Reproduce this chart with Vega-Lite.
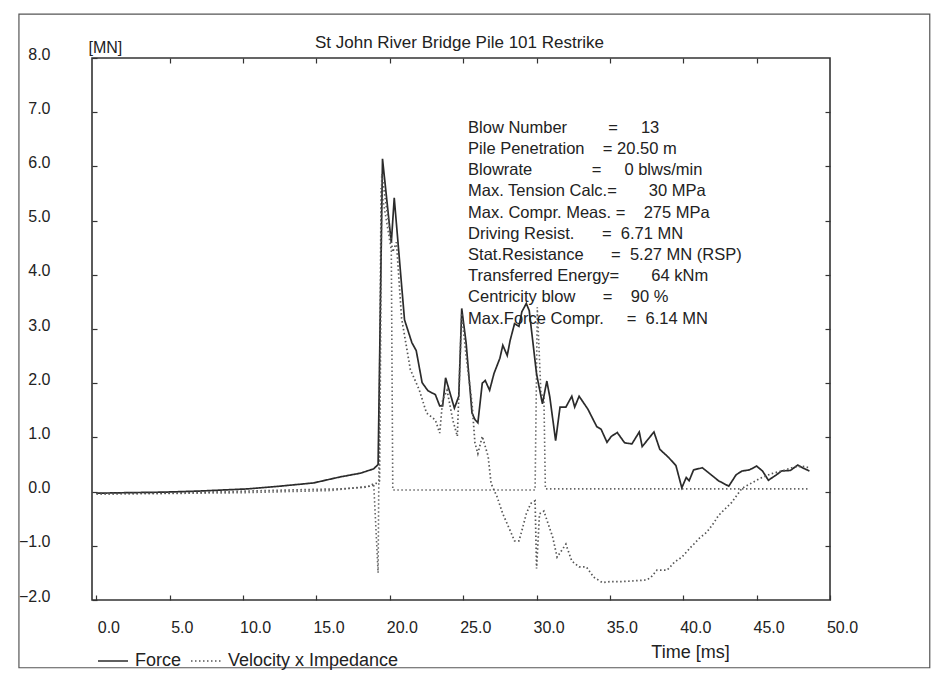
{
 "$schema": "https://vega.github.io/schema/vega-lite/v6.json",
 "width": 738, "height": 542,
 "autosize": {"type": "none"},
 "padding": {"left": 92, "top": 58, "right": 107, "bottom": 75},
 "background": "#ffffff",
 "config": {"view": {"stroke": "#333333", "strokeWidth": 1.6}, "font": "Liberation Sans"},
 "datasets": {
  "traces": [
   {"t":0,"v":-0.03,"s":"Force"},{"t":2,"v":-0.02,"s":"Force"},{"t":4.6,"v":-0.01,"s":"Force"},{"t":7,"v":0.01,"s":"Force"},{"t":10.3,"v":0.05,"s":"Force"},{"t":12.5,"v":0.1,"s":"Force"},{"t":14.8,"v":0.16,"s":"Force"},{"t":16.6,"v":0.27,"s":"Force"},{"t":18.0,"v":0.34,"s":"Force"},{"t":18.9,"v":0.42,"s":"Force"},{"t":19.2,"v":0.5,"s":"Force"},{"t":19.5,"v":6.14,"s":"Force"},{"t":20.1,"v":4.59,"s":"Force"},{"t":20.3,"v":5.42,"s":"Force"},{"t":21.0,"v":3.17,"s":"Force"},{"t":21.5,"v":2.75,"s":"Force"},{"t":21.8,"v":2.6,"s":"Force"},{"t":22.2,"v":2.01,"s":"Force"},{"t":22.6,"v":1.86,"s":"Force"},{"t":23.1,"v":1.79,"s":"Force"},{"t":23.4,"v":1.58,"s":"Force"},{"t":23.6,"v":1.58,"s":"Force"},{"t":23.8,"v":2.1,"s":"Force"},{"t":24.4,"v":1.54,"s":"Force"},{"t":24.7,"v":1.76,"s":"Force"},{"t":24.9,"v":3.38,"s":"Force"},{"t":25.2,"v":2.74,"s":"Force"},{"t":25.6,"v":1.45,"s":"Force"},{"t":25.8,"v":1.33,"s":"Force"},{"t":26.0,"v":1.27,"s":"Force"},{"t":26.3,"v":2.0,"s":"Force"},{"t":26.5,"v":2.05,"s":"Force"},{"t":26.8,"v":1.87,"s":"Force"},{"t":27.1,"v":2.18,"s":"Force"},{"t":27.5,"v":2.46,"s":"Force"},{"t":27.7,"v":2.7,"s":"Force"},{"t":28.0,"v":2.51,"s":"Force"},{"t":28.2,"v":2.79,"s":"Force"},{"t":28.5,"v":3.1,"s":"Force"},{"t":28.8,"v":3.05,"s":"Force"},{"t":29.0,"v":3.32,"s":"Force"},{"t":29.3,"v":3.47,"s":"Force"},{"t":29.5,"v":3.34,"s":"Force"},{"t":30.0,"v":2.17,"s":"Force"},{"t":30.4,"v":1.62,"s":"Force"},{"t":30.7,"v":2.04,"s":"Force"},{"t":30.9,"v":1.75,"s":"Force"},{"t":31.3,"v":0.94,"s":"Force"},{"t":31.6,"v":1.56,"s":"Force"},{"t":32.0,"v":1.56,"s":"Force"},{"t":32.4,"v":1.76,"s":"Force"},{"t":32.6,"v":1.56,"s":"Force"},{"t":32.9,"v":1.76,"s":"Force"},{"t":33.5,"v":1.52,"s":"Force"},{"t":34.1,"v":1.2,"s":"Force"},{"t":34.4,"v":1.15,"s":"Force"},{"t":34.8,"v":0.91,"s":"Force"},{"t":35.1,"v":1.02,"s":"Force"},{"t":35.5,"v":1.09,"s":"Force"},{"t":36.0,"v":0.9,"s":"Force"},{"t":36.5,"v":0.88,"s":"Force"},{"t":37.0,"v":1.1,"s":"Force"},{"t":37.2,"v":0.83,"s":"Force"},{"t":38.0,"v":1.1,"s":"Force"},{"t":38.4,"v":0.78,"s":"Force"},{"t":39.0,"v":0.63,"s":"Force"},{"t":39.5,"v":0.48,"s":"Force"},{"t":39.9,"v":0.07,"s":"Force"},{"t":40.2,"v":0.26,"s":"Force"},{"t":40.4,"v":0.2,"s":"Force"},{"t":40.7,"v":0.4,"s":"Force"},{"t":41.3,"v":0.44,"s":"Force"},{"t":41.9,"v":0.31,"s":"Force"},{"t":42.4,"v":0.2,"s":"Force"},{"t":43.1,"v":0.1,"s":"Force"},{"t":43.6,"v":0.31,"s":"Force"},{"t":44.0,"v":0.38,"s":"Force"},{"t":44.5,"v":0.4,"s":"Force"},{"t":45.0,"v":0.47,"s":"Force"},{"t":45.4,"v":0.38,"s":"Force"},{"t":45.8,"v":0.21,"s":"Force"},{"t":46.3,"v":0.3,"s":"Force"},{"t":46.7,"v":0.38,"s":"Force"},{"t":47.3,"v":0.39,"s":"Force"},{"t":47.8,"v":0.49,"s":"Force"},{"t":48.2,"v":0.43,"s":"Force"},{"t":48.6,"v":0.38,"s":"Force"},
   {"t":0,"v":-0.03,"s":"Velocity x Impedance"},{"t":4.6,"v":-0.03,"s":"Velocity x Impedance"},{"t":10.3,"v":0.01,"s":"Velocity x Impedance"},{"t":14.8,"v":0.04,"s":"Velocity x Impedance"},{"t":16.6,"v":0.05,"s":"Velocity x Impedance"},{"t":18.3,"v":0.08,"s":"Velocity x Impedance"},{"t":18.9,"v":0.12,"s":"Velocity x Impedance"},{"t":19.3,"v":0.2,"s":"Velocity x Impedance"},{"t":19.45,"v":5.86,"s":"Velocity x Impedance"},{"t":20.2,"v":4.42,"s":"Velocity x Impedance"},{"t":20.45,"v":4.6,"s":"Velocity x Impedance"},{"t":20.8,"v":3.2,"s":"Velocity x Impedance"},{"t":21.4,"v":2.25,"s":"Velocity x Impedance"},{"t":22.0,"v":1.88,"s":"Velocity x Impedance"},{"t":22.5,"v":1.45,"s":"Velocity x Impedance"},{"t":23.1,"v":1.32,"s":"Velocity x Impedance"},{"t":23.4,"v":1.08,"s":"Velocity x Impedance"},{"t":23.6,"v":1.69,"s":"Velocity x Impedance"},{"t":23.9,"v":1.87,"s":"Velocity x Impedance"},{"t":24.3,"v":1.31,"s":"Velocity x Impedance"},{"t":24.6,"v":1.02,"s":"Velocity x Impedance"},{"t":24.9,"v":3.29,"s":"Velocity x Impedance"},{"t":25.2,"v":2.5,"s":"Velocity x Impedance"},{"t":25.6,"v":1.63,"s":"Velocity x Impedance"},{"t":25.8,"v":0.9,"s":"Velocity x Impedance"},{"t":26.0,"v":0.7,"s":"Velocity x Impedance"},{"t":26.3,"v":1.02,"s":"Velocity x Impedance"},{"t":26.7,"v":0.65,"s":"Velocity x Impedance"},{"t":26.9,"v":0.15,"s":"Velocity x Impedance"},{"t":27.3,"v":-0.09,"s":"Velocity x Impedance"},{"t":27.7,"v":-0.41,"s":"Velocity x Impedance"},{"t":28.2,"v":-0.72,"s":"Velocity x Impedance"},{"t":28.5,"v":-0.91,"s":"Velocity x Impedance"},{"t":28.8,"v":-0.91,"s":"Velocity x Impedance"},{"t":29.0,"v":-0.72,"s":"Velocity x Impedance"},{"t":29.3,"v":-0.41,"s":"Velocity x Impedance"},{"t":29.6,"v":-0.22,"s":"Velocity x Impedance"},{"t":29.9,"v":-0.17,"s":"Velocity x Impedance"},{"t":30.0,"v":-1.42,"s":"Velocity x Impedance"},{"t":30.2,"v":-0.41,"s":"Velocity x Impedance"},{"t":30.5,"v":-0.36,"s":"Velocity x Impedance"},{"t":31.1,"v":-0.84,"s":"Velocity x Impedance"},{"t":31.4,"v":-1.21,"s":"Velocity x Impedance"},{"t":32.0,"v":-0.97,"s":"Velocity x Impedance"},{"t":32.4,"v":-1.28,"s":"Velocity x Impedance"},{"t":32.9,"v":-1.39,"s":"Velocity x Impedance"},{"t":33.4,"v":-1.39,"s":"Velocity x Impedance"},{"t":33.9,"v":-1.58,"s":"Velocity x Impedance"},{"t":34.5,"v":-1.68,"s":"Velocity x Impedance"},{"t":35.0,"v":-1.66,"s":"Velocity x Impedance"},{"t":35.8,"v":-1.66,"s":"Velocity x Impedance"},{"t":36.5,"v":-1.65,"s":"Velocity x Impedance"},{"t":37.5,"v":-1.63,"s":"Velocity x Impedance"},{"t":37.8,"v":-1.58,"s":"Velocity x Impedance"},{"t":38.2,"v":-1.45,"s":"Velocity x Impedance"},{"t":38.9,"v":-1.45,"s":"Velocity x Impedance"},{"t":39.4,"v":-1.3,"s":"Velocity x Impedance"},{"t":39.9,"v":-1.21,"s":"Velocity x Impedance"},{"t":40.5,"v":-1.03,"s":"Velocity x Impedance"},{"t":41.1,"v":-0.86,"s":"Velocity x Impedance"},{"t":41.6,"v":-0.75,"s":"Velocity x Impedance"},{"t":42.1,"v":-0.57,"s":"Velocity x Impedance"},{"t":42.4,"v":-0.44,"s":"Velocity x Impedance"},{"t":43.3,"v":-0.2,"s":"Velocity x Impedance"},{"t":44.0,"v":0.06,"s":"Velocity x Impedance"},{"t":45.2,"v":0.24,"s":"Velocity x Impedance"},{"t":46.0,"v":0.33,"s":"Velocity x Impedance"},{"t":46.7,"v":0.38,"s":"Velocity x Impedance"},{"t":47.4,"v":0.44,"s":"Velocity x Impedance"},{"t":48.1,"v":0.47,"s":"Velocity x Impedance"},{"t":48.6,"v":0.44,"s":"Velocity x Impedance"}
  ],
  "third": [
   {"t":0,"v":-0.05},{"t":10,"v":-0.02},{"t":16,"v":0.02},{"t":18.6,"v":0.1},{"t":18.9,"v":0.15},{"t":19.2,"v":-1.5},{"t":19.4,"v":5.6},{"t":20.1,"v":4.45},{"t":20.2,"v":0.03},{"t":29.9,"v":0.03},{"t":30.05,"v":3.4},{"t":30.3,"v":1.8},{"t":30.5,"v":1.75},{"t":30.6,"v":0.05},{"t":48.6,"v":0.05}
  ]
 },
 "layer": [
  {
   "data": {"values": [{}]},
   "mark": {"type": "rect", "clip": false, "filled": false, "stroke": "#555555", "strokeWidth": 1.2},
   "encoding": {
    "x": {"datum": -5.28, "type": "quantitative", "scale": {"domain": [-0.3, 50], "nice": false, "zero": false},
          "axis": {"orient": "top", "values": [5,10,15,20,25,30,35,40,45], "labels": false, "domain": false, "grid": false, "tickSize": -5, "tickColor": "#333333", "tickWidth": 1.2,
                   "title": "St John River Bridge Pile 101 Restrike", "titleFontSize": 17, "titleFontWeight": "normal", "titleColor": "#222222", "titleX": 367, "titleY": -11, "titleAlign": "center", "titleBaseline": "alphabetic"}},
    "x2": {"datum": 56.8},
    "y": {"datum": 8.81, "type": "quantitative", "scale": {"domain": [-2, 8], "nice": false, "zero": false},
          "axis": {"orient": "right", "values": [-1,0,1,2,3,4,5,6,7], "labels": false, "domain": false, "grid": false, "tickSize": -5, "tickColor": "#333333", "tickWidth": 1.2, "title": null}},
    "y2": {"datum": -3.25}
   }
  },
  {
   "data": {"name": "third"},
   "mark": {"type": "line", "color": "#666666", "strokeWidth": 1.6, "strokeDash": [1.5, 2.5]},
   "encoding": {
    "x": {"field": "t", "type": "quantitative", "axis": null},
    "y": {"field": "v", "type": "quantitative", "axis": null}
   }
  },
  {
   "data": {"name": "traces"},
   "mark": {"type": "line", "strokeWidth": 1.7},
   "encoding": {
    "x": {"field": "t", "type": "quantitative",
          "axis": {"orient": "bottom", "values": [0,5,10,15,20,25,30,35,40,45,50], "format": ".1f", "domain": false, "grid": false, "tickSize": -5, "tickColor": "#333333", "tickWidth": 1.2, "labelPadding": 24, "labelOffset": 12, "labelFontSize": 16, "labelColor": "#222222", "labelFlush": false, "labelOverlap": false, "title": "Time [ms]", "titleFontSize": 18, "titleFontWeight": "normal", "titleColor": "#222222", "titleX": 598, "titleY": 52, "titleAlign": "center", "titleBaseline": "middle"}},
    "y": {"field": "v", "type": "quantitative",
          "axis": {"orient": "left", "values": [-2,-1,0,1,2,3,4,5,6,7,8], "format": ".1f", "domain": false, "grid": false, "tickSize": -5, "tickColor": "#333333", "tickWidth": 1.2, "labelPadding": 47, "labelOffset": -4, "labelFontSize": 16, "labelColor": "#222222", "labelFlush": false, "labelOverlap": false, "title": "[MN]", "titleAngle": 0, "titleFontSize": 16, "titleFontWeight": "normal", "titleColor": "#222222", "titleX": -4, "titleY": -3, "titleAlign": "left", "titleBaseline": "bottom"}},
    "color": {"field": "s", "type": "nominal", "scale": {"domain": ["Force", "Velocity x Impedance"], "range": ["#2b2b2b", "#555555"]},
              "legend": {"orient": "none", "legendX": 5, "legendY": 587, "direction": "horizontal", "title": null, "symbolType": "stroke", "symbolSize": 900, "symbolStrokeWidth": 1.5, "labelFontSize": 18, "labelLimit": 400, "labelColor": "#222222", "labelOffset": 6, "columnPadding": 6}},
    "strokeDash": {"field": "s", "type": "nominal", "scale": {"domain": ["Force", "Velocity x Impedance"], "range": [[1, 0], [1.5, 2.5]]},
              "legend": {"orient": "none", "legendX": 5, "legendY": 587, "direction": "horizontal", "title": null, "symbolType": "stroke", "symbolSize": 900, "symbolStrokeWidth": 1.5, "labelFontSize": 18, "labelLimit": 400, "labelColor": "#222222", "labelOffset": 6, "columnPadding": 6}}
   }
  },
  {
   "data": {"values": [{}]},
   "mark": {"type": "text", "align": "left", "baseline": "alphabetic", "fontSize": 16.5, "lineHeight": 21.2, "color": "#222222",
            "text": [
             "Blow Number\u00a0\u00a0\u00a0\u00a0\u00a0\u00a0\u00a0\u00a0\u00a0=\u00a0\u00a0\u00a0\u00a0\u00a013",
             "Pile Penetration\u00a0\u00a0\u00a0\u00a0=\u00a020.50 m",
             "Blowrate\u00a0\u00a0\u00a0\u00a0\u00a0\u00a0\u00a0\u00a0\u00a0\u00a0\u00a0\u00a0\u00a0=\u00a0\u00a0\u00a0\u00a0\u00a00 blws/min",
             "Max. Tension Calc.=\u00a0\u00a0\u00a0\u00a0\u00a0\u00a0\u00a030 MPa",
             "Max. Compr. Meas.\u00a0=\u00a0\u00a0\u00a0\u00a0275 MPa",
             "Driving Resist.\u00a0\u00a0\u00a0\u00a0\u00a0\u00a0=\u00a0\u00a06.71 MN",
             "Stat.Resistance\u00a0\u00a0\u00a0\u00a0\u00a0\u00a0=\u00a0\u00a05.27 MN (RSP)",
             "Transferred Energy=\u00a0\u00a0\u00a0\u00a0\u00a0\u00a0\u00a064 kNm",
             "Centricity blow\u00a0\u00a0\u00a0\u00a0\u00a0\u00a0=\u00a0\u00a0\u00a0\u00a090 %",
             "Max.Force Compr.\u00a0\u00a0\u00a0\u00a0\u00a0=\u00a0\u00a06.14 MN"
            ]},
   "encoding": {
    "x": {"datum": 25.33, "type": "quantitative", "axis": null},
    "y": {"datum": 6.62, "type": "quantitative", "axis": null}
   }
  }
 ],
 "resolve": {"axis": {"x": "independent", "y": "independent"}}
}
